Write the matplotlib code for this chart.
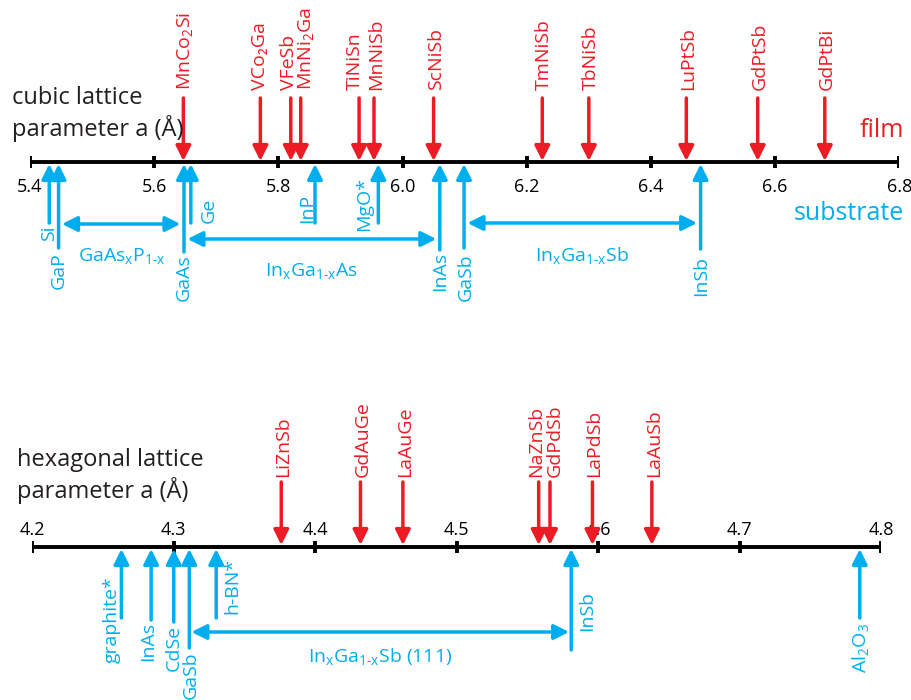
import matplotlib.pyplot as plt

plt.rcParams['font.family'] = ['Open Sans', 'DejaVu Sans']
plt.rcParams['mathtext.fontset'] = 'custom'
plt.rcParams['mathtext.rm'] = 'Open Sans'

RED = '#ED1C24'
BLUE = '#00AEEF'

# ---- cubic data ----
cubic_ticks = [5.4, 5.6, 5.8, 6.0, 6.2, 6.4, 6.6, 6.8]
cubic_tick_labels = ['5.4', '5.6', '5.8', '6.0', '6.2', '6.4', '6.6', '6.8']
cubic_films = ['MnCo$_2$Si', 'VCo₂Ga', 'VFeSb', 'MnNi$_2$Ga', 'TiNiSn', 'MnNiSb',
               'ScNiSb', 'TmNiSb', 'TbNiSb', 'LuPtSb', 'GdPtSb', 'GdPtBi']
cubic_film_a = [5.647, 5.771, 5.820, 5.836, 5.930, 5.954, 6.050, 6.225, 6.300,
                6.457, 6.572, 6.680]
cubic_subs = ['Si', 'GaP', 'GaAs', 'Ge', 'InP', 'MgO*', 'InAs', 'GaSb', 'InSb']
cubic_sub_a = [5.431, 5.446, 5.648, 5.659, 5.859, 5.961, 6.060, 6.099, 6.480]
cubic_alloys = [r'GaAs$_\mathregular{x}$P$_\text{1-x}$',
                r'In$_\mathregular{x}$Ga$_\text{1-x}$As',
                r'In$_\mathregular{x}$Ga$_\text{1-x}$Sb']
cubic_alloy_ends = [('GaP', 'GaAs'), ('GaAs', 'InAs'), ('GaSb', 'InSb')]

# ---- hexagonal data ----
hex_ticks = [4.2, 4.3, 4.4, 4.5, 4.6, 4.7, 4.8]
hex_tick_labels = ['4.2', '4.3', '4.4', '4.5', '4.6', '4.7', '4.8']
hex_films = ['LiZnSb', 'GdAuGe', 'LaAuGe', 'NaZnSb', 'GdPdSb', 'LaPdSb', 'LaAuSb']
hex_film_a = [4.376, 4.432, 4.462, 4.558, 4.566, 4.596, 4.638]
hex_subs = ['graphite*', 'InAs', 'CdSe', 'GaSb', 'h-BN*', 'InSb', 'Al$_2$O$_3$']
hex_sub_a = [4.263, 4.284, 4.300, 4.311, 4.330, 4.581, 4.785]
hex_alloys = [r'In$_\mathregular{x}$Ga$_\text{1-x}$Sb (111)']
hex_alloy_ends = [('GaSb', 'InSb')]

# ---- layout (pixels) ----
cubic_film_dx = [0, -2, -4, 4, -6, 0, 0, 0, 0, 0, 0, 0]
cubic_sub_tail = [223, 248, 252, 223, 223, 223, 250, 248, 249]
cubic_sub_dx = [0, 0, 0, 18, -8, -14, 0, 2, 1]
cubic_sub_lab_y = [241, 289, 301, 223, 223, 231, 291, 301, 296]
cubic_alloy_y = [224, 239, 223]

hex_film_dx = [0, 0, 0, -5, 3, 0, 0]
hex_sub_tail = [618, 620, 622, 648, 618, 650, 618]
hex_sub_dx = [-10, -3, 0, 1, 16, 16, 2]
hex_sub_lab_y = [663, 661, 671, 699, 614, 631, 673]
hex_alloy_y = [632]

AR = dict(lw=2.5, mutation_scale=10, shrinkA=0, shrinkB=0)
HEAD = ',head_length=0.9,head_width=0.45'


def draw_panel(ax, ticks, tick_labels, axis_y, tick_label_y, films, film_a,
               film_dx, film_top, film_tip, film_lab_y, subs, sub_a, sub_tail,
               sub_tip, sub_dx, sub_lab_y, alloys, alloy_ends, alloy_y,
               alloy_shrink, alloy_lab_dy):
    ax.set_ylim(700, 0)
    ax.axis('off')
    ax.plot([ticks[0], ticks[-1]], [axis_y, axis_y], color='black', lw=2.8,
            solid_capstyle='butt')
    for t, lab in zip(ticks, tick_labels):
        ax.plot([t, t], [axis_y - 6, axis_y + 6], color='black', lw=2.8,
                solid_capstyle='butt')
        ax.text(t, tick_label_y, lab, ha='center', va='baseline', fontsize=13)
    for name, a, dx in zip(films, film_a, film_dx):
        ax.annotate('', xy=(a, film_tip), xytext=(a, film_top),
                    arrowprops=dict(arrowstyle='-|>' + HEAD, color=RED, **AR))
        ax.annotate(name, xy=(a, film_lab_y), xytext=(dx + 2, 0),
                    textcoords='offset pixels', rotation=90, ha='center',
                    va='bottom', color=RED, fontsize=14, annotation_clip=False)
    for name, a, tail, dx, ly in zip(subs, sub_a, sub_tail, sub_dx, sub_lab_y):
        ax.annotate('', xy=(a, sub_tip), xytext=(a, tail),
                    arrowprops=dict(arrowstyle='-|>' + HEAD, color=BLUE, **AR))
        ax.annotate(name, xy=(a, ly), xytext=(dx, 0),
                    textcoords='offset pixels', rotation=90, ha='center',
                    va='bottom', color=BLUE, fontsize=14, annotation_clip=False)
    pos = dict(zip(subs, sub_a))
    for lab, (left, right), y in zip(alloys, alloy_ends, alloy_y):
        ax.annotate('', xy=(pos[right], y), xytext=(pos[left], y),
                    arrowprops=dict(arrowstyle='<|-|>' + HEAD, color=BLUE,
                                    lw=2.5, mutation_scale=10,
                                    shrinkA=alloy_shrink, shrinkB=alloy_shrink))
        ax.text((pos[left] + pos[right]) / 2, y + alloy_lab_dy, lab,
                ha='center', va='center', color=BLUE, fontsize=14)


fig = plt.figure(figsize=(9.12, 7), dpi=100)

ax1 = fig.add_axes([30 / 912, 0, (899.3 - 30) / 912, 1])
ax1.set_xlim(5.4, 6.8)
draw_panel(ax1, cubic_ticks, cubic_tick_labels, 162, 192, cubic_films,
           cubic_film_a, cubic_film_dx, 98, 161, 90, cubic_subs, cubic_sub_a,
           cubic_sub_tail, 164, cubic_sub_dx, cubic_sub_lab_y, cubic_alloys,
           cubic_alloy_ends, cubic_alloy_y, 2.5, 33)

ax2 = fig.add_axes([32.3 / 912, 0, (881 - 32.3) / 912, 1])
ax2.set_xlim(4.2, 4.8)
draw_panel(ax2, hex_ticks, hex_tick_labels, 546.7, 535, hex_films, hex_film_a,
           hex_film_dx, 482, 545, 477, hex_subs, hex_sub_a, hex_sub_tail, 549,
           hex_sub_dx, hex_sub_lab_y, hex_alloys, hex_alloy_ends, hex_alloy_y,
           1.5, 25)

ax1.text(-0.021, 86, 'cubic lattice\nparameter a (Å)', transform=ax1.get_yaxis_transform(),
         fontsize=17, va='top', ha='left', linespacing=1.25, color='#231F20')
ax1.text(1.005, 137, 'film', transform=ax1.get_yaxis_transform(), fontsize=18,
         ha='right', va='baseline', color=RED)
ax1.text(1.005, 220, 'substrate', transform=ax1.get_yaxis_transform(), fontsize=18,
         ha='right', va='baseline', color=BLUE)
ax2.text(-0.018, 448, 'hexagonal lattice\nparameter a (Å)',
         transform=ax2.get_yaxis_transform(), fontsize=17, va='top', ha='left',
         linespacing=1.25, color='#231F20')

fig.savefig('out.png', dpi=100)
